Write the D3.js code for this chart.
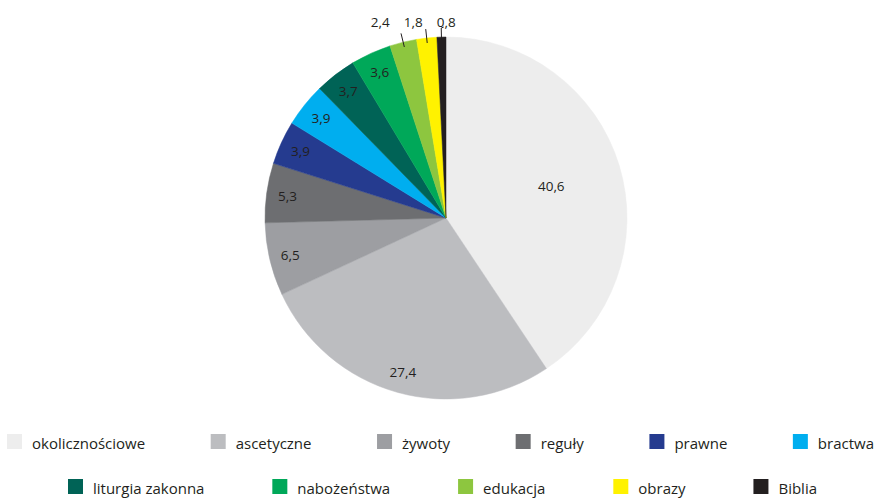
<!DOCTYPE html>
<html>
<head>
<meta charset="utf-8">
<script src="https://cdn.jsdelivr.net/npm/d3@7"></script>
<style>
  html, body { margin: 0; padding: 0; background: #ffffff; }
  svg { display: block; }
  text { font-family: "Open Sans", "DejaVu Sans", sans-serif; fill: #231f20; }
</style>
</head>
<body>
<svg id="chart" width="876" height="499"></svg>
<script>
// ---- data ----
const categories = ["okolicznościowe", "ascetyczne", "żywoty", "reguły", "prawne", "bractwa",
                    "liturgia zakonna", "nabożeństwa", "edukacja", "obrazy", "Biblia"];
const values = [40.6, 27.4, 6.5, 5.3, 3.9, 3.9, 3.7, 3.6, 2.4, 1.8, 0.8];
const labels = ["40,6", "27,4", "6,5", "5,3", "3,9", "3,9", "3,7", "3,6", "2,4", "1,8", "0,8"];
const colors = ["#ededed", "#bcbdc0", "#9d9ea2", "#6d6e71", "#253b8f", "#00aeef",
                "#006356", "#00a859", "#8dc63f", "#fff200", "#231f20"];
const legendRow1 = categories.slice(0, 6);
const legendRow2 = categories.slice(6);

// ---- layout ----
const W = 876, H = 499;
const cx = 446, cy = 218, R = 181;
const svg = d3.select("#chart");

const data = categories.map((c, i) => ({ cat: c, value: values[i], label: labels[i], color: colors[i] }));
const color = d3.scaleOrdinal().domain(categories).range(colors);

const pie = d3.pie().sort(null).value(d => d.value);
const arcs = pie(data);
const arc = d3.arc().innerRadius(0).outerRadius(R);

const g = svg.append("g").attr("transform", `translate(${cx},${cy})`);
g.selectAll("path.slice").data(arcs).enter().append("path")
  .attr("class", "slice")
  .attr("d", arc)
  .attr("fill", d => color(d.data.cat))
  .attr("stroke", d => color(d.data.cat))
  .attr("stroke-width", 0.5);

const mid = d => (d.startAngle + d.endAngle) / 2;
const pt = (a, r) => [r * Math.sin(a), -r * Math.cos(a)];

// inside labels
const inner = arcs.filter(d => d.data.value >= 3);
g.selectAll("text.in").data(inner).enter().append("text")
  .attr("class", "in")
  .attr("x", d => pt(mid(d), d.data.value > 30 ? 110 : 160)[0])
  .attr("y", d => pt(mid(d), d.data.value > 30 ? 110 : 160)[1])
  .attr("text-anchor", "middle")
  .attr("dominant-baseline", "central")
  .style("font-size", "13.5px")
  .text(d => d.data.label);

// outside labels with leader lines
const outer = arcs.filter(d => d.data.value < 3);
const ends = outer.map(d => pt(mid(d), R + 9));
const tx = new Array(outer.length);
for (let i = outer.length - 1; i >= 0; i--) {
  const base = ends[i][0] + (i === outer.length - 1 ? 5 : 0);
  tx[i] = i === outer.length - 1 ? base : Math.min(base, tx[i + 1] - 33);
}
outer.forEach((d, i) => {
  const a = mid(d);
  const p0 = pt(a, R - 5), p1 = ends[i];
  const pts = [p0, p1];
  if (i === outer.length - 1) pts.push([p1[0] + 2.5, p1[1] - 1]);
  g.append("path")
    .attr("d", d3.line()(pts))
    .attr("fill", "none")
    .attr("stroke", "#231f20")
    .attr("stroke-width", 1);
  svg.append("text")
    .attr("x", cx + tx[i])
    .attr("y", 27)
    .attr("text-anchor", "middle")
    .style("font-size", "13.5px")
    .text(d.data.label);
});

// ---- legend ----
const sw = 15, gapText = 10;
function drawRow(items, y, x0, x1) {
  const grp = svg.append("g");
  const nodes = items.map(c => {
    const it = grp.append("g");
    it.append("rect").attr("width", sw).attr("height", sw).attr("y", y - 15)
      .attr("fill", color(c));
    const t = it.append("text").attr("x", sw + gapText).attr("y", y)
      .style("font-size", "15px").text(c);
    return { it, w: sw + gapText + t.node().getComputedTextLength() };
  });
  const total = d3.sum(nodes, n => n.w);
  const gap = (x1 - x0 - total) / (nodes.length - 1);
  let x = x0;
  nodes.forEach(n => { n.it.attr("transform", `translate(${x},0)`); x += n.w + gap; });
}
drawRow(legendRow1, 449, 7, 874);
drawRow(legendRow2, 494, 68, 817);
</script>
</body>
</html>
